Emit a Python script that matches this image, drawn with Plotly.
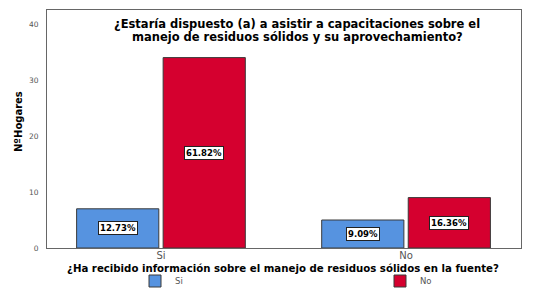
import plotly.graph_objects as go

categories = ["Si", "No"]
series_names = ["Si", "No"]
values_si = [7, 5]
values_no = [34, 9]
labels_si = ["12.73%", "9.09%"]
labels_no = ["61.82%", "16.36%"]
colors = ["#5693E0", "#D5002F"]
y_ticks = [0, 10, 20, 30, 40]

title_lines = ["¿Estaría dispuesto (a) a asistir a capacitaciones sobre el",
               "manejo de residuos sólidos y su aprovechamiento?"]
x_title = "¿Ha recibido información sobre el manejo de residuos sólidos en la fuente?"
y_title = "NºHogares"

WIDE = "DejaVu Sans, Verdana, sans-serif"

W, H = 539, 299
L, R, T, B = 47, 18, 10, 51
PW, PH = W - L - R, H - T - B


def px_x(px):
    return (px - L) / PW


def px_y(py):
    return (H - B - py) / PH


fig = go.Figure()
series_vals = [values_si, values_no]
series_labels = [labels_si, labels_no]
legend_ids = ["legend", "legend2"]
for name, vals, col, lg in zip(series_names, series_vals, colors, legend_ids):
    fig.add_trace(go.Bar(
        name=name, x=list(range(len(categories))), y=vals, legend=lg,
        marker=dict(color=col, line=dict(color="#3a3a3a", width=1)),
    ))

bargap = 0.294
groupw = 1 - bargap
slot = groupw / len(series_names)
annotations = []
for s, (vals, labs) in enumerate(zip(series_vals, series_labels)):
    off = -groupw / 2 + slot * (s + 0.5)
    for i, (v, lab) in enumerate(zip(vals, labs)):
        annotations.append(dict(
            x=i + off, y=v / 2, xref="x", yref="y", text="<b>" + lab + "</b>",
            showarrow=False, bgcolor="white", bordercolor="#222", borderwidth=1,
            borderpad=1, font=dict(family=WIDE, size=8.5, color="black")))

# title lines
for line, py in zip(title_lines, [23.5, 36.5]):
    annotations.append(dict(x=px_x(297), y=px_y(py), xref="paper", yref="paper",
                            text="<b>" + line + "</b>", showarrow=False, yanchor="middle",
                            font=dict(family=WIDE, size=11.5, color="black")))
# x axis title
annotations.append(dict(x=px_x(283), y=px_y(268), xref="paper", yref="paper",
                        text="<b>" + x_title + "</b>", showarrow=False, yanchor="middle",
                        font=dict(family=WIDE, size=10.2, color="black")))
# y axis title
annotations.append(dict(x=px_x(18), y=px_y(122), xref="paper", yref="paper",
                        text="<b>" + y_title + "</b>", showarrow=False, textangle=-90,
                        xanchor="center", yanchor="middle",
                        font=dict(family=WIDE, size=10, color="black")))

leg_common = dict(orientation="h", xanchor="left", yanchor="middle", bgcolor="rgba(0,0,0,0)",
                  xref="container", yref="container",
                  font=dict(family=WIDE, size=8.5, color="#555"), itemwidth=30)
fig.update_layout(
    width=W, height=H,
    margin=dict(l=L, r=R, t=T, b=B, autoexpand=False),
    paper_bgcolor="white", plot_bgcolor="white",
    barmode="group", bargap=bargap, bargroupgap=0.05,
    showlegend=True,
    legend=dict(x=135 / W, y=1 - 281 / H, **leg_common),
    legend2=dict(x=380 / W, y=1 - 281 / H, **leg_common),
    annotations=annotations,
    xaxis=dict(tickmode="array", tickvals=list(range(len(categories))), ticktext=categories,
               range=[-0.465, 1.469], showline=True, mirror=True, linecolor="#666", linewidth=1,
               ticks="", showgrid=False, zeroline=False, ticklabelstandoff=-2,
               tickfont=dict(family=WIDE, size=10, color="#555")),
    yaxis=dict(range=[0, 42.5], tickvals=y_ticks, showline=True, mirror=True, linecolor="#666",
               linewidth=1, ticks="", showgrid=False, zeroline=False, ticklabelstandoff=6,
               tickfont=dict(family=WIDE, size=7.5, color="#555")),
)

fig.write_html("out.html", config={"displayModeBar": False},
               post_script="document.body.style.margin='0px';document.body.style.overflow='hidden';")
